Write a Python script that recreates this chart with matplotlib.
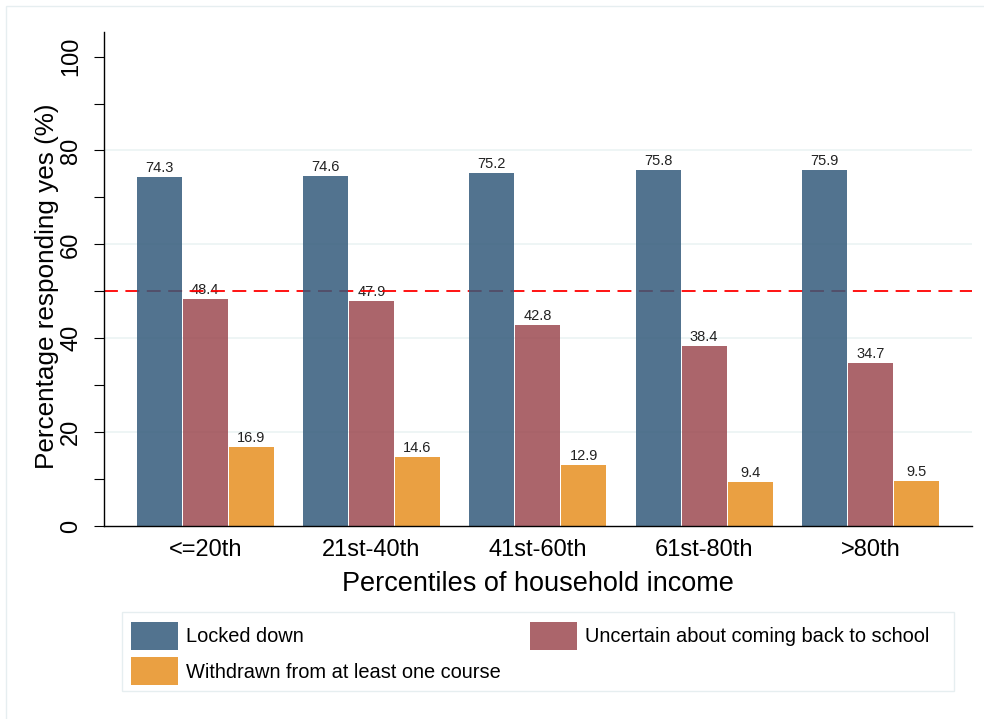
import matplotlib
matplotlib.use("Agg")
import matplotlib.pyplot as plt
import numpy as np
from matplotlib.patches import Rectangle

plt.rcParams["font.family"] = ["Liberation Sans", "DejaVu Sans"]

categories = ["<=20th", "21st-40th", "41st-60th", "61st-80th", ">80th"]
series_names = ["Locked down", "Uncertain about coming back to school",
                "Withdrawn from at least one course"]
locked = [74.3, 74.6, 75.2, 75.8, 75.9]
uncertain = [48.4, 47.9, 42.8, 38.4, 34.7]
withdrawn = [16.9, 14.6, 12.9, 9.4, 9.5]

# colours chosen so that at alpha .85 over white they give the Stata look
colors = ["#345B7B", "#9C4A51", "#E78F21"]
alpha = 0.85

fig = plt.figure(figsize=(9.84, 7.19), dpi=100)
ax = fig.add_axes([104 / 984, 1 - 526 / 719, (972 - 104) / 984, (526 - 31.7) / 719])

x = np.arange(len(categories))
step = 0.2766
width = 0.2706

for yv in (20, 40, 60, 80):
    ax.axhline(yv, color="#EAF2F3", lw=1.1, zorder=0)

# reference line at 50%, drawn under the (slightly see-through) bars
ax.axhline(50, color="#FF0000", lw=1.3, dashes=(7.7, 4.15), zorder=1)

for k, (vals, name) in enumerate(zip([locked, uncertain, withdrawn], series_names)):
    pos = x + (k - 1) * step
    ax.bar(pos, vals, width=width, color=colors[k], alpha=alpha, label=name,
           zorder=2, linewidth=0)
    for p, v in zip(pos, vals):
        ax.annotate(f"{v:.1f}", (p, v), xytext=(0, 3.6), textcoords="offset points",
                    ha="center", va="baseline", fontsize=10.5, color="#222222",
                    zorder=0.9)

ax.set_xlim(-0.6085, 4.611)
ax.set_ylim(0, 105.3)
ax.set_xticks(x)
ax.set_xticklabels(categories, fontsize=17)
ax.tick_params(axis="x", length=0, pad=9)
ax.set_yticks([0, 20, 40, 60, 80, 100])
ax.set_yticks([10, 30, 50, 70, 90], minor=True)
ax.tick_params(axis="y", which="both", length=7.2, width=0.8, pad=8.5)
for lab in ax.get_yticklabels():
    lab.set_rotation(90)
    lab.set_va("center")
    lab.set_fontsize(17)

for s in ("top", "right"):
    ax.spines[s].set_visible(False)
for s in ("left", "bottom"):
    ax.spines[s].set_linewidth(1.0)

ax.set_xlabel("Percentiles of household income", fontsize=19.5, labelpad=7.5)
ax.set_ylabel("Percentage responding yes (%)", fontsize=18.8)
ax.yaxis.set_label_coords(-0.052, 0.4855)

# legend frame drawn by hand, Stata stretches it wider than the entries
fig.patches.append(Rectangle((122 / 984, 1 - 691 / 719), (954 - 122) / 984, 79 / 719,
                             transform=fig.transFigure, facecolor="white",
                             edgecolor="#E6EEF0", lw=1.0, zorder=0))
handles, labels = ax.get_legend_handles_labels()
order = [0, 2, 1]  # legend fills by column, Stata by row
fig.legend([handles[i] for i in order], [labels[i] for i in order], ncol=2,
           frameon=False, fontsize=14.4, loc="upper left",
           bbox_to_anchor=(131 / 984, 1 - 622 / 719), borderaxespad=0,
           borderpad=0, handlelength=2.35, handleheight=1.78, handletextpad=0.4,
           labelspacing=0.35, columnspacing=1.45)

# outer graph region border
fig.patches.append(Rectangle((6 / 984, -0.05), 1.1, 1 - 6 / 719 + 0.05,
                             transform=fig.transFigure, facecolor="none",
                             edgecolor="#E6EEF0", lw=1.0, zorder=0))

fig.savefig("out.png", dpi=100)
